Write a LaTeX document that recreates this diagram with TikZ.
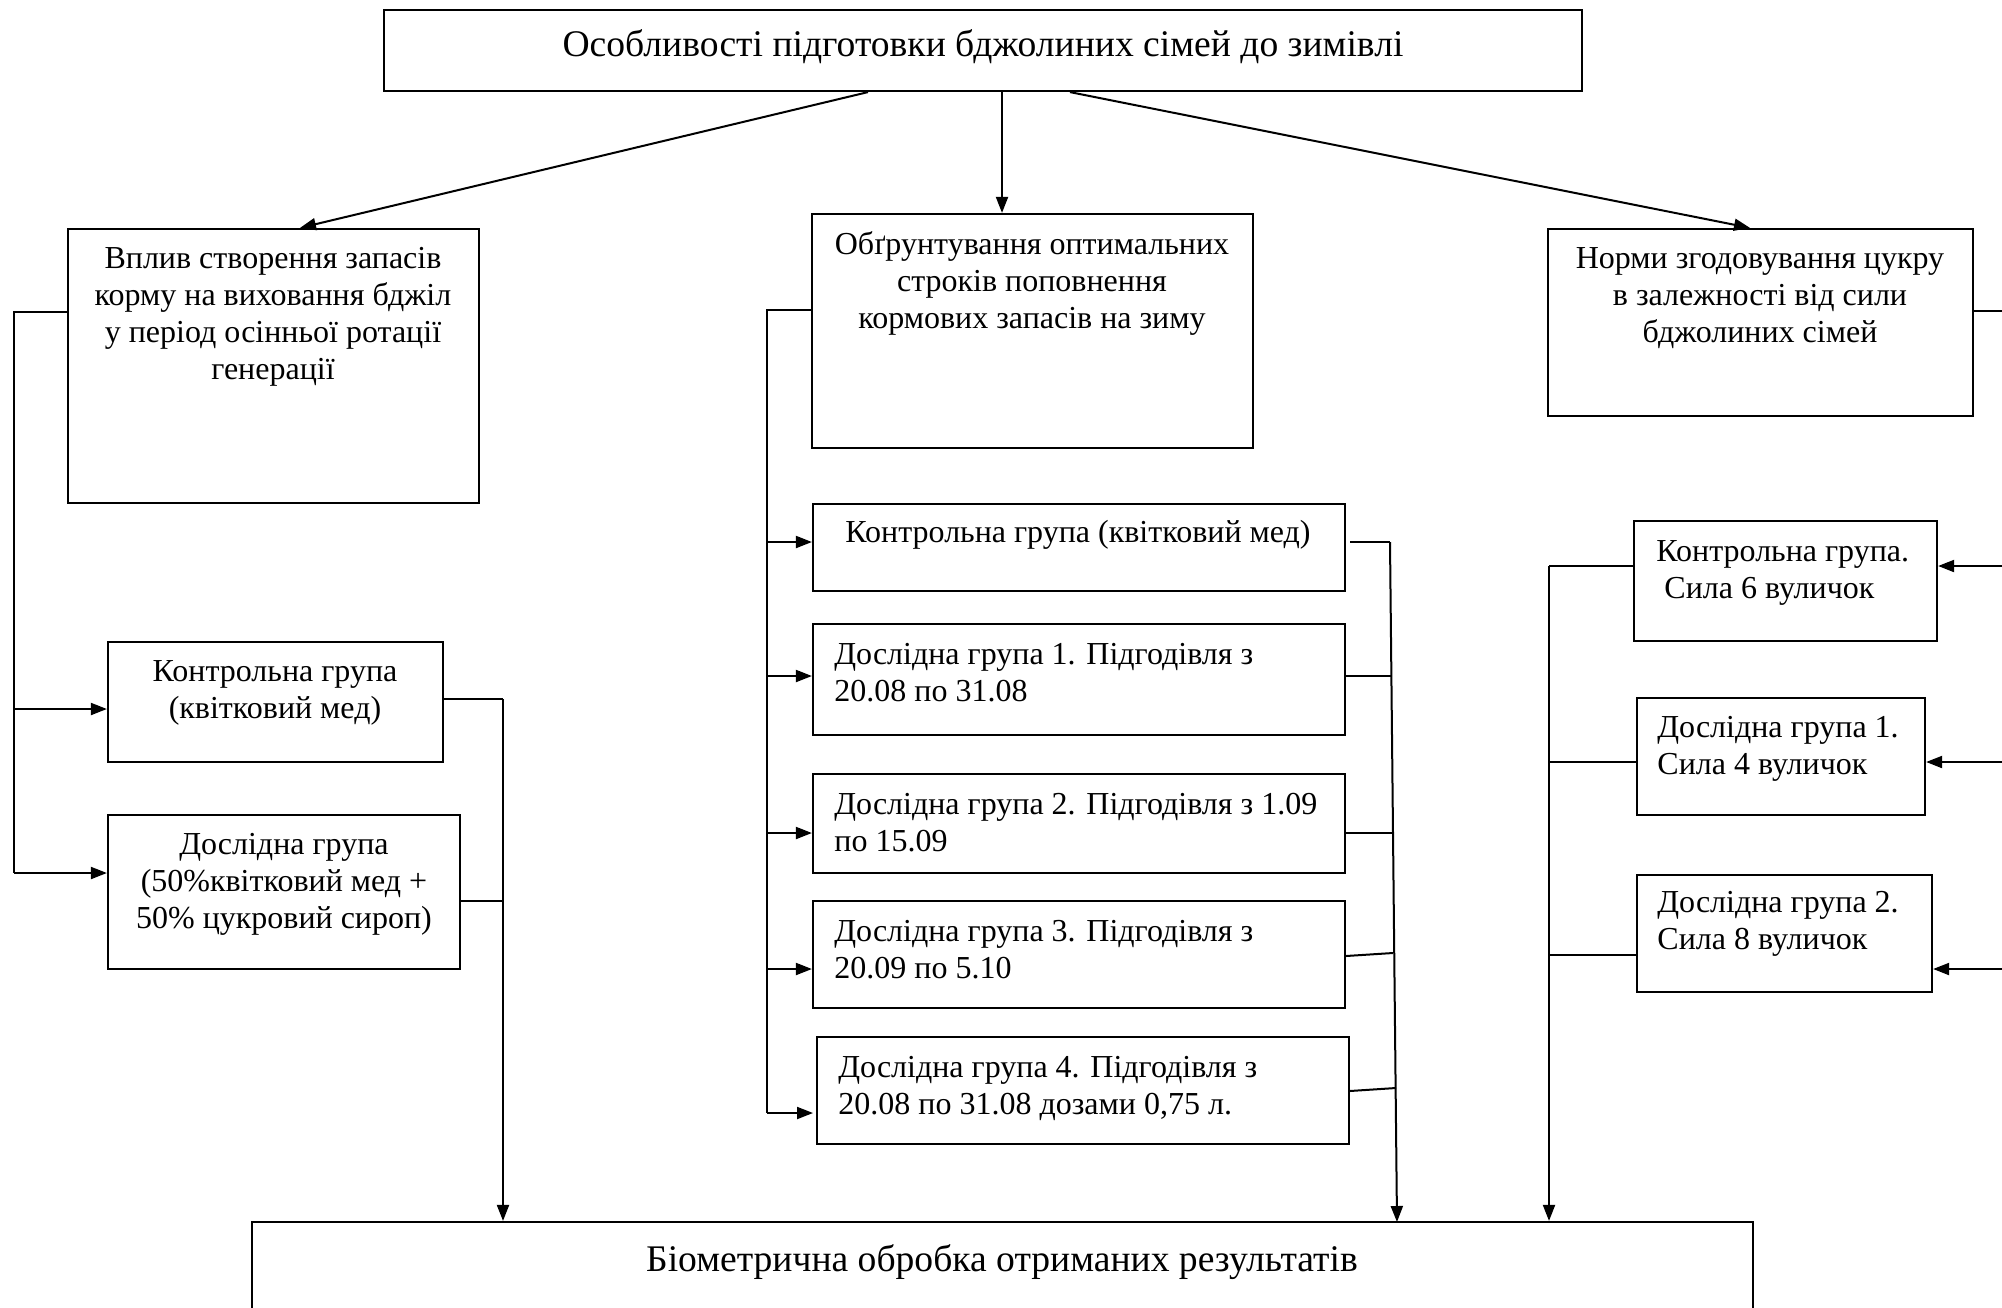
\documentclass[tikz,border=0pt]{standalone}
\usepackage{fontspec}
\setmainfont{Liberation Serif}
\usetikzlibrary{arrows.meta,fit}
\begin{document}
\begin{tikzpicture}[x=0.5pt,y=-0.5pt,
  box/.style={draw, line width=1.1pt, inner sep=0pt},
  txt/.style={inner sep=0pt, font=\fontsize{16}{18.5}\selectfont},
  bigtxt/.style={inner sep=0pt, font=\fontsize{18.8}{22}\selectfont},
  ln/.style={line width=1pt},
  arr/.style={line width=1pt, -{Triangle[length=8pt,width=6pt]}}]
\useasboundingbox (0,0) rectangle (2002,1307);
\fill[white] (0,0) rectangle (2002,1307);
\clip (0,0) rectangle (2002,1307);

% boxes
\node[box, fit={(384,10) (1582,91)}] (top) {};
\node[box, fit={(68,229) (479,503)}] (b1) {};
\node[box, fit={(812,214) (1253,448)}] (b2) {};
\node[box, fit={(1548,229) (1973,416)}] (b3) {};
\node[box, fit={(108,642) (443,762)}] (lc) {};
\node[box, fit={(108,815) (460,969)}] (ld) {};
\node[box, fit={(813,504) (1345,591)}] (mc) {};
\node[box, fit={(813,624) (1345,735)}] (m1) {};
\node[box, fit={(813,774) (1345,873)}] (m2) {};
\node[box, fit={(813,901) (1345,1008)}] (m3) {};
\node[box, fit={(817,1037) (1349,1144)}] (m4) {};
\node[box, fit={(1634,521) (1937,641)}] (r0) {};
\node[box, fit={(1637,698) (1925,815)}] (r1) {};
\node[box, fit={(1637,875) (1932,992)}] (r2) {};
\node[box, fit={(252,1222) (1753,1340)}] (bot) {};

% texts (anchor=base is the baseline of the last line)
\node[bigtxt, anchor=base] (ttop) at (983,56) {Особливості підготовки бджолиних сімей до зимівлі};
\node[txt, anchor=base, align=center] (tb1) at (273,379) {Вплив створення запасів\\корму на виховання бджіл\\у період осінньої ротації\\генерації};
\node[txt, anchor=base, align=center] (tb2) at (1032,328) {Обґрунтування оптимальних\\строків поповнення\\кормових запасів на зиму};
\node[txt, anchor=base, align=center] (tb3) at (1760,342) {Норми згодовування цукру\\в залежності від сили\\бджолиних сімей};
\node[txt, anchor=base, align=center] (tlc) at (275,718) {Контрольна група\\(квітковий мед)};
\node[txt, anchor=base, align=center] (tld) at (284,928) {Дослідна група\\(50\%квітковий мед +\\50\% цукровий сироп)};
\node[txt, anchor=base] (tmc) at (1078,542) {Контрольна група (квітковий мед)};
\node[txt, anchor=base west, align=left] (tm1) at (834,701) {Дослідна група 1. Підгодівля з\\20.08 по 31.08};
\node[txt, anchor=base west, align=left] (tm2) at (834,851) {Дослідна група 2. Підгодівля з 1.09\\по 15.09};
\node[txt, anchor=base west, align=left] (tm3) at (834,978) {Дослідна група 3. Підгодівля з\\20.09 по 5.10};
\node[txt, anchor=base west, align=left] (tm4) at (838,1114) {Дослідна група 4. Підгодівля з\\20.08 по 31.08 дозами 0,75 л.};
\node[txt, anchor=base west, align=left] (tr0) at (1656,598) {Контрольна група.\\\hspace*{4pt}Сила 6 вуличок};
\node[txt, anchor=base west, align=left] (tr1) at (1657,774) {Дослідна група 1.\\Сила 4 вуличок};
\node[txt, anchor=base west, align=left] (tr2) at (1657,949) {Дослідна група 2.\\Сила 8 вуличок};
\node[bigtxt, anchor=base] (tbot) at (1002,1271) {Біометрична обробка отриманих результатів};

% spine coordinates
\coordinate (Ls) at (14,0);
\coordinate (Lr) at (503,0);
\coordinate (Ms) at (767,0);
\coordinate (Mrt) at (1390,542);
\coordinate (Mrb) at (1397,1222);
\coordinate (Rs) at (1549,0);
\coordinate (Edge) at (2010,0);

% top arrows
\draw[arr] (top.south -| 868,0) -- (b1.north -| 300,0);
\draw[arr] (top.south -| 1002,0) -- (b2.north -| 1002,0);
\draw[arr] (top.south -| 1070,0) -- (b3.north -| 1750,0);

% left column
\draw[ln] (b1.west |- 0,312) -- (Ls |- 0,312) -- (Ls |- 0,873);
\draw[arr] (Ls |- 0,709) -- (lc.west |- 0,709);
\draw[arr] (Ls |- 0,873) -- (ld.west |- 0,873);
\draw[ln] (lc.east |- 0,699) -- (Lr |- 0,699);
\draw[ln] (ld.east |- 0,901) -- (Lr |- 0,901);
\draw[arr] (Lr |- 0,699) -- (bot.north -| Lr);

% middle column
\draw[ln] (b2.west |- 0,310) -- (Ms |- 0,310) -- (Ms |- 0,1113);
\draw[arr] (Ms |- 0,542) -- (mc.west |- 0,542);
\draw[arr] (Ms |- 0,676) -- (m1.west |- 0,676);
\draw[arr] (Ms |- 0,833) -- (m2.west |- 0,833);
\draw[arr] (Ms |- 0,969) -- (m3.west |- 0,969);
\draw[arr] (Ms |- 0,1113) -- (813,1113);
\draw[ln] (1350,542) -- (Mrt);
\draw[arr] (Mrt) -- (Mrb);
\draw[ln] (m1.east |- 0,676) -- (1391,676);
\draw[ln] (m2.east |- 0,833) -- (1392,833);
\draw[ln] (m3.east |- 0,956) -- (1393,953);
\draw[ln] (1350,1091) -- (1396,1088);

% right column
\draw[ln] (b3.east |- 0,311) -- (Edge |- 0,311);
\draw[ln] (r0.west |- 0,566) -- (Rs |- 0,566);
\draw[arr] (Rs |- 0,566) -- (bot.north -| Rs);
\draw[ln] (r1.west |- 0,762) -- (Rs |- 0,762);
\draw[ln] (r2.west |- 0,955) -- (Rs |- 0,955);
\draw[arr] (Edge |- 0,566) -- (r0.east |- 0,566);
\draw[arr] (Edge |- 0,762) -- (r1.east |- 0,762);
\draw[arr] (Edge |- 0,969) -- (r2.east |- 0,969);
\end{tikzpicture}
\end{document}
